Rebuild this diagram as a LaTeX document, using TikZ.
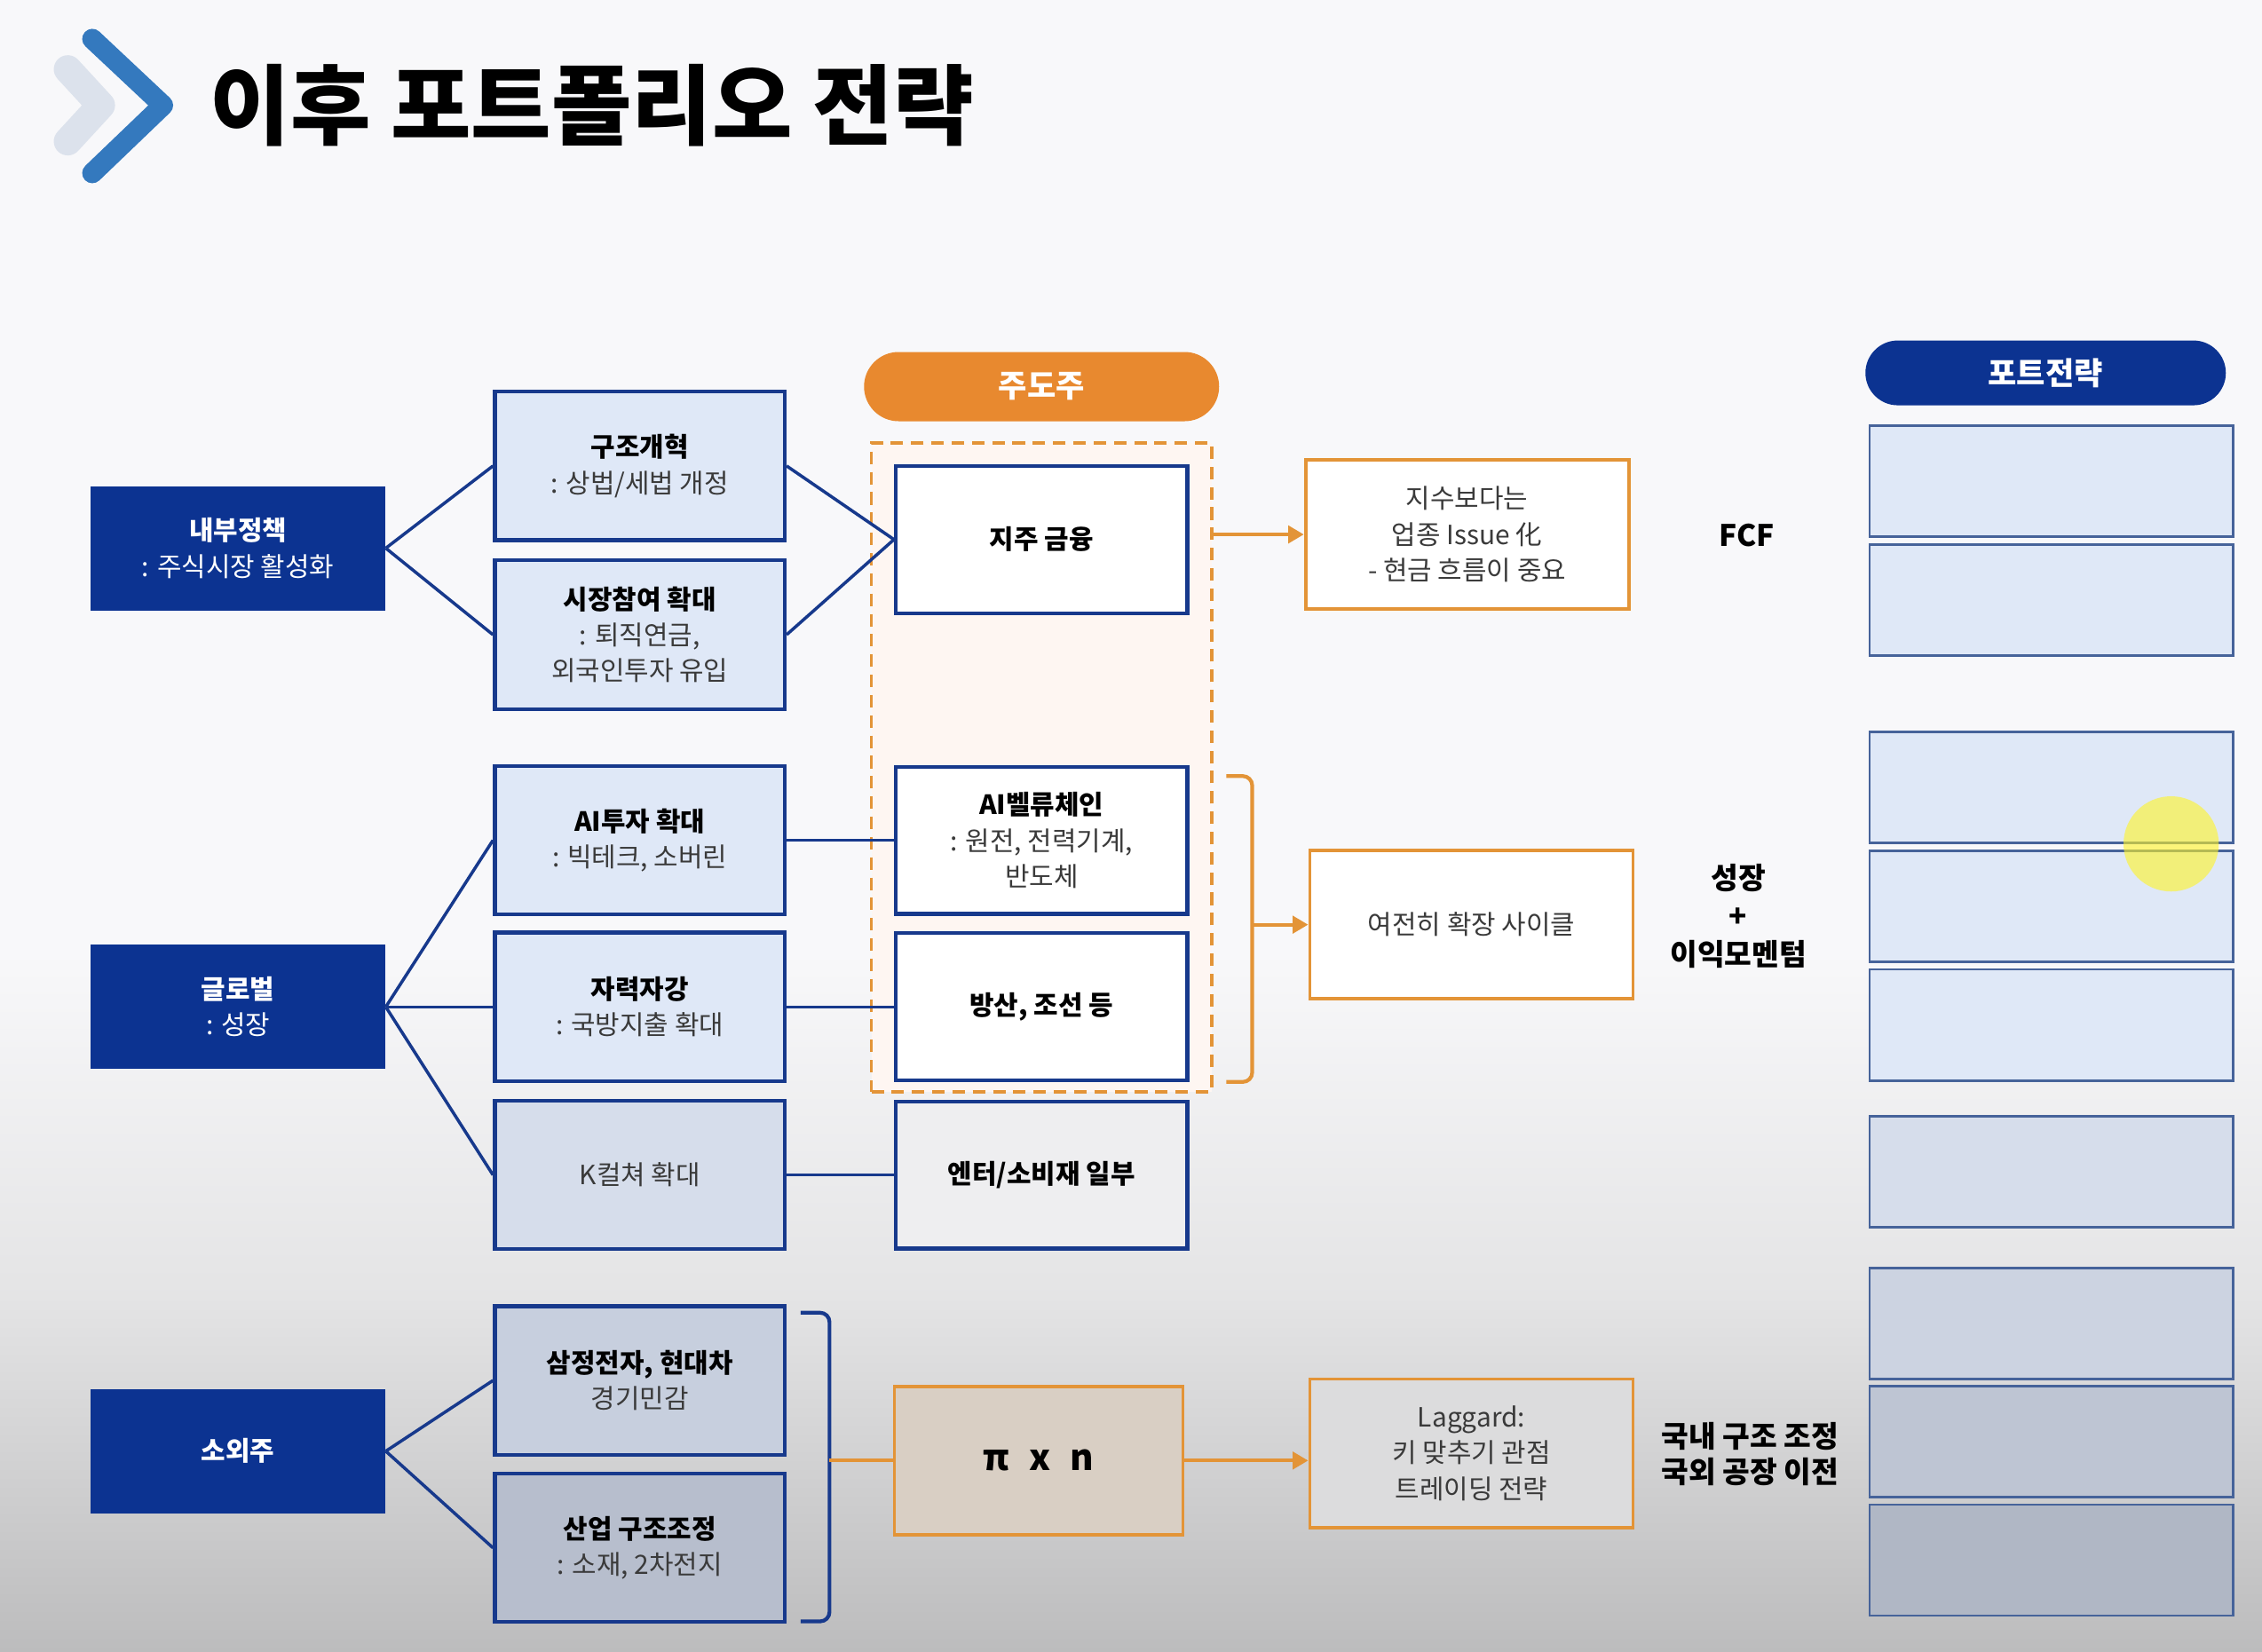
\documentclass[tikz,border=0pt]{standalone}
\usepackage{fontspec}
\setmainfont{Noto Sans CJK KR}
\usetikzlibrary{arrows.meta,calc}
\definecolor{navy}{HTML}{0C3391}
\definecolor{navyb}{HTML}{17398C}
\definecolor{lightb}{HTML}{DFE8F7}
\definecolor{orng}{HTML}{E8892F}
\definecolor{orngb}{HTML}{E39437}
\definecolor{bgtop}{HTML}{F8F8FA}
\definecolor{bgmid}{HTML}{E4E4E5}
\definecolor{bgbot}{HTML}{BCBCBD}
\definecolor{chevblue}{HTML}{3479BE}
\definecolor{chevlight}{HTML}{DCE2EC}
\definecolor{subtxt}{HTML}{3A3A3A}
\definecolor{leadfill}{HTML}{FEF6F2}
\definecolor{stratb}{HTML}{46639A}
\begin{document}
\begin{tikzpicture}[x=0.01625cm,y=-0.01625cm,
  txt/.style={font=\fontsize{8.5}{11.5}\selectfont, align=center},
  lbox/.style={txt, fill=navy, text=white, minimum width=3.315cm, minimum height=1.40cm, inner sep=0pt},
  mbox/.style={txt, draw=navyb, line width=1.2pt, fill=lightb, minimum width=3.266cm, minimum height=1.674cm, inner sep=0pt},
  cbox/.style={txt, draw=navyb, line width=1.2pt, fill=white, minimum width=3.283cm, minimum height=1.658cm, inner sep=0pt},
  obox/.style={txt, draw=orngb, line width=1.1pt, fill=white, minimum width=3.64cm, minimum height=1.674cm, inner sep=0pt},
  sbox/.style={draw=stratb, line width=0.8pt, fill=lightb, minimum width=4.095cm, minimum height=1.251cm, inner sep=0pt},
  pill/.style={font=\fontsize{10}{12}\selectfont\bfseries, text=white, inner sep=0pt},
  conn/.style={draw=navyb, line width=1pt},
  oarr/.style={draw=orngb, line width=1.2pt, -{Triangle[length=5pt,width=5.5pt]}},
  lab/.style={font=\fontsize{9.5}{11.5}\selectfont\bfseries, align=center, text=black},
  sub/.style={text=subtxt}
]
\useasboundingbox (0,0) rectangle (1568,1145);
% background
\fill[bgtop] (0,0) rectangle (1568,660);
\shade[top color=bgtop, bottom color=bgmid] (0,659) rectangle (1568,900);
\shade[top color=bgmid, bottom color=bgbot] (0,899) rectangle (1568,1145);

% title chevrons
\draw[chevlight, line width=9pt, line cap=round, line join=round] (47,48) -- (70,73) -- (47,98);
\draw[chevblue, line width=6.5pt, line cap=round, line join=round] (64,27) -- (113,73) -- (64,120);
\node[anchor=west, font=\fontsize{28}{32}\selectfont\bfseries] (title) at (138,73) {이후 포트폴리오 전략};

% left column
\node[lbox] (n1) at (165,380) {\textbf{내부정책}\\: 주식시장 활성화};
\node[lbox] (n2) at (165,698) {\textbf{글로벌}\\: 성장};
\node[lbox] (n3) at (165,1006) {\textbf{소외주}};

% second column
\node[mbox] (b1) at (443.5,323) {\textbf{구조개혁}\\{\color{subtxt}: 상법/세법 개정}};
\node[mbox] (b2) at (443.5,440) {\textbf{시장참여 확대}\\{\color{subtxt}: 퇴직연금,}\\{\color{subtxt}외국인투자 유입}};
\node[mbox] (b3) at (443.5,582.5) {\textbf{AI투자 확대}\\{\color{subtxt}: 빅테크, 소버린}};
\node[mbox] (b4) at (443.5,698) {\textbf{자력자강}\\{\color{subtxt}: 국방지출 확대}};
\node[mbox, fill={rgb,255:red,214;green,221;blue,235}] (b5) at (443.5,814.5) {{\color{subtxt}K컬쳐 확대}};
\node[mbox, fill={rgb,255:red,199;green,207;blue,222}] (b6) at (443.5,957) {\textbf{삼정전자, 현대차}\\{\color{subtxt}경기민감}};
\node[mbox, fill={rgb,255:red,183;green,190;blue,205}] (b7) at (443.5,1073) {\textbf{산업 구조조정}\\{\color{subtxt}: 소재, 2차전지}};

% lead group
\node[pill, fill=orng, rounded corners=0.39cm, minimum width=4.0cm, minimum height=0.78cm] (lp) at (722,268) {주도주};
\node[draw=orngb, dashed, dash pattern=on 4pt off 2.5pt, line width=1.1pt, fill=leadfill, minimum width=3.835cm, minimum height=7.31cm, inner sep=0pt] (lead) at (722,532) {};
\node[cbox] (c1) at (722,374) {\textbf{지주 금융}};
\node[cbox] (c2) at (722,582.5) {\textbf{AI벨류체인}\\{\color{subtxt}: 원전, 전력기계,}\\{\color{subtxt}반도체}};
\node[cbox] (c3) at (722,698) {\textbf{방산, 조선 등}};
\node[cbox, fill={rgb,255:red,238;green,238;blue,240}] (c4) at (722,814.5) {\textbf{엔터/소비재 일부}};
\node[txt, draw=orngb, line width=1.1pt, fill={rgb,255:red,217;green,207;blue,196}, minimum width=3.25cm, minimum height=1.674cm, inner sep=0pt, font=\fontsize{11.5}{13}\selectfont\bfseries] (pi) at (720,1012.5) {π\hspace{0.55em}x\hspace{0.55em}n};

% orange result boxes
\node[obox] (o1) at (1017,370.5) {{\color{subtxt}지수보다는}\\{\color{subtxt}업종 Issue 化}\\{\color{subtxt}- 현금 흐름이 중요}};
\node[obox] (o2) at (1020,641) {{\color{subtxt}여전히 확장 사이클}};
\node[obox, fill={rgb,255:red,220;green,220;blue,221}] (o3) at (1020,1007.5) {{\color{subtxt}Laggard:}\\{\color{subtxt}키 맞추기 관점}\\{\color{subtxt}트레이딩 전략}};

% labels
\node[lab] (l1) at (1211,371) {FCF};
\node[lab, font=\fontsize{9.5}{12.2}\selectfont\bfseries] (l2) at (1205,635) {성장\\+\\이익모멘텀};
\node[lab, font=\fontsize{9.5}{11.5}\selectfont\bfseries] (l3) at (1213,1008) {국내 구조 조정\\국외 공장 이전};

% strategy column
\node[pill, fill=navy, rounded corners=0.365cm, minimum width=4.06cm, minimum height=0.73cm] (sp) at (1418,258.5) {포트전략};
\node[sbox] (s1) at (1422,333.5) {};
\node[sbox] (s2) at (1422,416) {};
\node[sbox] (s3) at (1422,546) {};
\node[sbox] (s4) at (1422,628.5) {};
\node[sbox] (s5) at (1422,710.5) {};
\node[sbox, fill={rgb,255:red,214;green,221;blue,235}] (s6) at (1422,812.5) {};
\node[sbox, fill={rgb,255:red,204;green,211;blue,225}] (s7) at (1422,917.5) {};
\node[sbox, fill={rgb,255:red,190;green,197;blue,211}] (s8) at (1422,999.5) {};
\node[sbox, fill={rgb,255:red,176;green,183;blue,197}] (s9) at (1422,1081.5) {};
\fill[yellow!85!white, opacity=0.6] (1505,585) circle (33);

% connectors
\draw[conn] (n1.east) -- (b1.west);
\draw[conn] (n1.east) -- (b2.west);
\draw[conn] (b1.east) -- (c1.west);
\draw[conn] (b2.east) -- (c1.west);
\draw[conn] (n2.east) -- (b3.west);
\draw[conn] (n2.east) -- (b4.west);
\draw[conn] (n2.east) -- (b5.west);
\draw[conn] (b3.east) -- (c2.west);
\draw[conn] (b4.east) -- (c3.west);
\draw[conn] (b5.east) -- (c4.west);
\draw[conn] (n3.east) -- (b6.west);
\draw[conn] (n3.east) -- (b7.west);

% brackets and arrows
\draw[oarr] (lead.east |- o1.west) -- (o1.west);
\draw[orngb, line width=1.2pt, rounded corners=3pt] (850,538) -- (868,538) -- (868,750) -- (850,750);
\coordinate (br1) at (868,641);
\draw[oarr] (br1) -- (o2.west);
\draw[navyb, line width=1.2pt, rounded corners=3pt] (555,910) -- (575,910) -- (575,1124) -- (555,1124);
\coordinate (br2) at (575,1012.5);
\draw[orngb, line width=1.2pt] (br2) -- (pi.west);
\draw[oarr] (pi.east) -- (pi.east -| o3.west);
\end{tikzpicture}
\end{document}
